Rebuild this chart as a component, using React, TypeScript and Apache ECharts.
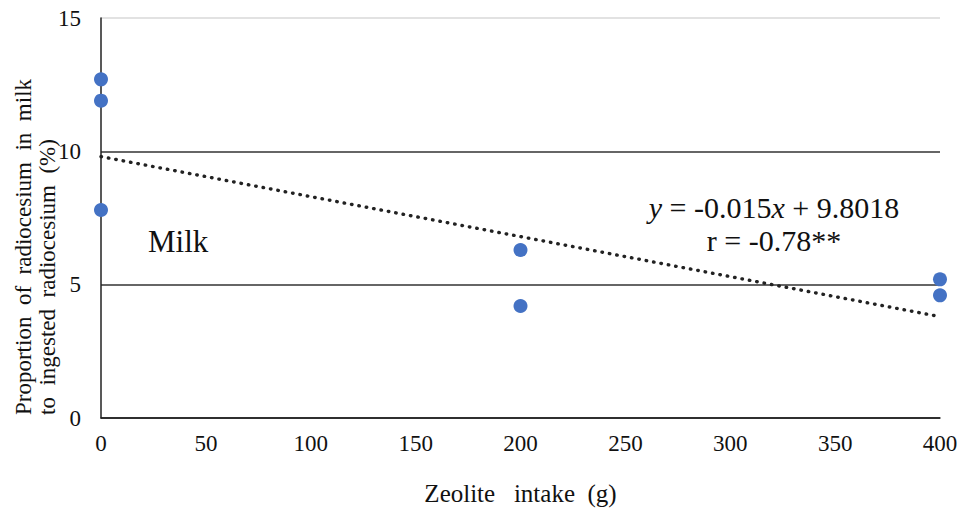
import React, { useEffect, useRef } from "react";
import * as echarts from "echarts";

const zeoliteIntake = [0, 0, 0, 200, 200, 400, 400];
const milkProportion = [12.7, 11.9, 7.8, 6.3, 4.2, 5.2, 4.6];
const trendSlope = -0.015;
const trendIntercept = 9.8018;
const trendX = [0, 400];
const xTicks = { min: 0, max: 400, interval: 50 };
const yTicks = { min: 0, max: 15, interval: 5 };
const equationText = "{i|y} = -0.015{i|x} + 9.8018";
const rText = "r = -0.78**";
const seriesLabel = "Milk";
const xName = "Zeolite   intake  (g)";
const yName1 = "Proportion  of  radiocesium  in  milk";
const yName2 = "to  ingested  radiocesium  (%)";

const FONT = "Liberation Serif";

export default function App() {
  const ref = useRef<HTMLDivElement>(null);
  useEffect(() => {
    if (!ref.current) return;
    const chart = echarts.init(ref.current, null, { renderer: "svg" });
    const points = zeoliteIntake.map((x, i) => [x, milkProportion[i]]);
    const trend = trendX.map((x) => [x, trendSlope * x + trendIntercept]);
    const txt = (size: number) => ({ fontFamily: FONT, fontSize: size, fill: "#111" });
    chart.setOption({
      animation: false,
      backgroundColor: "#ffffff",
      textStyle: { fontFamily: FONT },
      grid: { left: 101, right: 25, top: 18, bottom: 95 },
      xAxis: {
        type: "value",
        min: xTicks.min,
        max: xTicks.max,
        interval: xTicks.interval,
        name: xName,
        nameLocation: "middle",
        nameGap: 63,
        nameTextStyle: { fontFamily: FONT, fontSize: 25, color: "#111" },
        axisLine: { show: true, lineStyle: { color: "#222", width: 1.5 } },
        axisTick: { show: false },
        splitLine: { show: false },
        axisLabel: { fontFamily: FONT, fontSize: 23, color: "#111", margin: 14 },
      },
      yAxis: {
        type: "value",
        min: yTicks.min,
        max: yTicks.max,
        interval: yTicks.interval,
        axisLine: { show: true, lineStyle: { color: "#222", width: 1.5 } },
        axisTick: { show: false },
        splitLine: {
          show: true,
          lineStyle: { color: ["#222", "#333", "#333", "#d9d9d9"], width: 1.5 },
        },
        axisLabel: { fontFamily: FONT, fontSize: 23, color: "#111", margin: 20 },
      },
      graphic: [
        {
          type: "text",
          x: 23,
          y: 415,
          rotation: Math.PI / 2,
          style: { text: yName1, ...txt(23), align: "left", verticalAlign: "middle" },
        },
        {
          type: "text",
          x: 47,
          y: 415,
          rotation: Math.PI / 2,
          style: { text: yName2, ...txt(23), align: "left", verticalAlign: "middle" },
        },
        {
          type: "text",
          x: 148,
          y: 241,
          style: { text: seriesLabel, ...txt(31), align: "left", verticalAlign: "middle" },
        },
        {
          type: "text",
          x: 774,
          y: 207,
          style: {
            text: equationText,
            ...txt(30),
            align: "center",
            verticalAlign: "middle",
            rich: {
              i: { fontStyle: "italic", fontFamily: FONT, fontSize: 30, fill: "#111" },
            },
          },
        },
        {
          type: "text",
          x: 774,
          y: 240,
          style: { text: rText, ...txt(30), align: "center", verticalAlign: "middle" },
        },
      ],
      series: [
        {
          type: "line",
          data: trend,
          showSymbol: false,
          symbol: "none",
          lineStyle: { color: "#222", width: 3.4, type: [0.5, 7], cap: "round" },
          z: 2,
        },
        {
          type: "scatter",
          data: points,
          symbol: "circle",
          symbolSize: 14,
          itemStyle: { color: "#4472C4", opacity: 1 },
          z: 3,
        },
      ],
    });
    return () => chart.dispose();
  }, []);
  return (
    <div
      ref={ref}
      style={{ position: "absolute", left: 0, top: 0, width: 965, height: 513 }}
    />
  );
}
